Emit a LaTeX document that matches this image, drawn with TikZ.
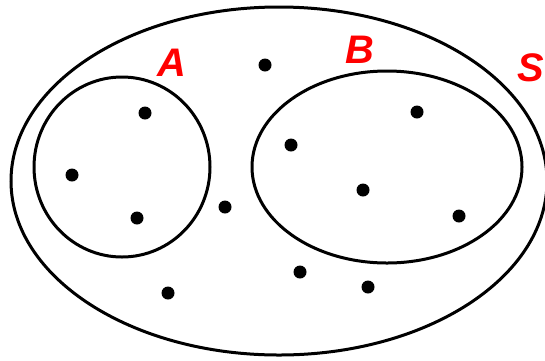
\documentclass[tikz,border=0pt]{standalone}
\usepackage{fontspec}
\setmainfont{Liberation Sans}
\begin{document}
\begin{tikzpicture}[x=1bp,y=-1bp,
  setline/.style={line width=3bp, draw=black},
  pt/.style={circle, fill=black, inner sep=0pt, minimum size=13bp},
  lbl/.style={text=red, font=\fontsize{40}{40}\selectfont\bfseries\itshape, inner sep=0pt}]
\useasboundingbox (0,0) rectangle (545,360);
\begin{scope}
\clip (0,0) rectangle (545,360);
\draw[setline] (279,181) ellipse [x radius=268, y radius=174];
\end{scope}
\draw[setline] (122,167) ellipse [x radius=88, y radius=90];
\draw[setline] (387,167) ellipse [x radius=135, y radius=96];
\node[lbl] (A) at (172,63) {A};
\node[lbl] (B) at (360,50) {B};
\node[lbl] (S) at (531,68) {S};
\node[pt] (p1) at (145,113) {};
\node[pt] (p2) at (72,175) {};
\node[pt] (p3) at (137,218) {};
\node[pt] (p4) at (265,65) {};
\node[pt] (p5) at (225,207) {};
\node[pt] (p6) at (291,145) {};
\node[pt] (p7) at (417,112) {};
\node[pt] (p8) at (363,190) {};
\node[pt] (p9) at (459,216) {};
\node[pt] (p10) at (300,272) {};
\node[pt] (p11) at (368,287) {};
\node[pt] (p12) at (168,293) {};
\end{tikzpicture}
\end{document}
